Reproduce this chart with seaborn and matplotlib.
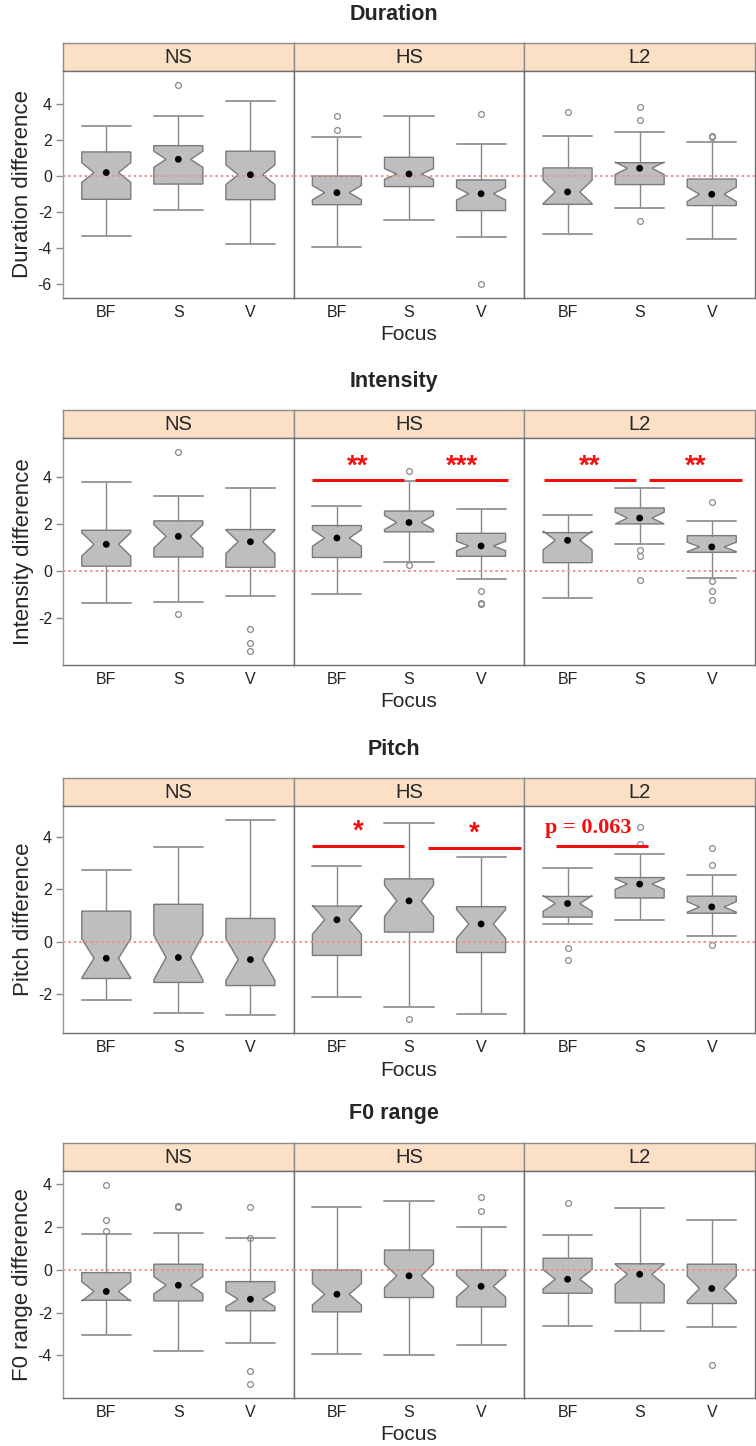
import matplotlib
matplotlib.use("Agg")
import matplotlib.pyplot as plt
import pandas as pd
import seaborn as sns

sns.set_theme(style="white")
plt.rcParams['font.family'] = ['Liberation Sans', 'DejaVu Sans']

# Categories
groups = ["NS", "HS", "L2"]
focus = ["BF", "S", "V"]

# Duration (rows = NS, HS, L2; columns = BF, S, V)
dur_med = [[0.19, 0.93, 0.07], [-0.93, 0.11, -0.99], [-0.89, 0.43, -1.02]]
dur_q1 = [[-1.30, -0.45, -1.32], [-1.60, -0.59, -1.93], [-1.58, -0.48, -1.65]]
dur_q3 = [[1.34, 1.69, 1.38], [0.00, 1.04, -0.22], [0.45, 0.74, -0.17]]
dur_lo = [[-3.33, -1.91, -3.77], [-3.94, -2.43, -3.38], [-3.22, -1.78, -3.49]]
dur_hi = [[2.79, 3.35, 4.16], [2.19, 3.35, 1.77], [2.21, 2.45, 1.88]]
dur_notch = [[0.55, 0.45, 0.55], [0.40, 0.30, 0.35], [0.65, 0.35, 0.40]]
dur_out = [[[], [5.09], []], [[3.33, 2.57], [], [3.48, -6.04]],
           [[3.55], [3.85, 3.10, -2.51], [2.16, 2.20]]]

# Intensity
int_med = [[1.14, 1.48, 1.25], [1.41, 2.07, 1.07], [1.31, 2.26, 1.03]]
int_q1 = [[0.21, 0.60, 0.16], [0.58, 1.67, 0.63], [0.36, 2.01, 0.80]]
int_q3 = [[1.74, 2.14, 1.77], [1.94, 2.56, 1.61], [1.64, 2.69, 1.51]]
int_lo = [[-1.38, -1.31, -1.05], [-0.97, 0.37, -0.34], [-1.13, 1.15, -0.28]]
int_hi = [[3.79, 3.21, 3.56], [2.79, 3.83, 2.65], [2.38, 3.56, 2.15]]
int_notch = [[0.50, 0.50, 0.50], [0.35, 0.30, 0.20], [0.40, 0.25, 0.20]]
int_out = [[[], [5.09, -1.81], [-2.46, -3.05, -3.42]],
           [[], [4.26, 0.28], [-0.83, -1.41, -1.38]],
           [[], [0.90, 0.66, -0.36], [2.95, -0.43, -0.85, -1.21]]]

# Pitch
pit_med = [[-0.64, -0.61, -0.69], [0.83, 1.55, 0.67], [1.45, 2.19, 1.32]]
pit_q1 = [[-1.41, -1.56, -1.68], [-0.53, 0.36, -0.42], [0.93, 1.66, 1.08]]
pit_q3 = [[1.16, 1.42, 0.88], [1.35, 2.39, 1.33], [1.72, 2.44, 1.73]]
pit_lo = [[-2.22, -2.71, -2.82], [-2.11, -2.49, -2.76], [0.65, 0.84, 0.20]]
pit_hi = [[2.72, 3.61, 4.64], [2.90, 4.54, 3.23], [2.80, 3.33, 2.55]]
pit_notch = [[0.75, 0.85, 0.80], [0.55, 0.60, 0.55], [0.30, 0.20, 0.20]]
pit_out = [[[], [], []], [[], [-2.96], []],
           [[-0.25, -0.72], [4.38, 3.72], [3.58, 2.92, -0.14]]]

# F0 range
f0_med = [[-1.02, -0.73, -1.38], [-1.15, -0.29, -0.78], [-0.45, -0.22, -0.88]]
f0_q1 = [[-1.43, -1.46, -1.92], [-1.97, -1.30, -1.74], [-1.10, -1.55, -1.58]]
f0_q3 = [[-0.14, 0.25, -0.56], [-0.02, 0.91, -0.02], [0.53, 0.27, 0.25]]
f0_lo = [[-3.04, -3.81, -3.44], [-3.95, -4.00, -3.50], [-2.62, -2.88, -2.67]]
f0_hi = [[1.67, 1.72, 1.46], [2.93, 3.21, 2.00], [1.60, 2.88, 2.33]]
f0_notch = [[0.45, 0.40, 0.35], [0.50, 0.55, 0.50], [0.45, 0.47, 0.58]]
f0_out = [[[3.92, 2.29, 1.80], [2.96, 2.90], [2.91, 1.49, -4.71, -5.33]],
          [[], [], [3.38, 2.73]], [[3.12], [], [-4.45]]]

# Significance marks: group index, bar start/end (in box positions), bar height, label
int_sig_group = [1, 1, 2, 2]
int_sig_x0 = [0.65, 2.09, 0.67, 2.13]
int_sig_x1 = [1.93, 3.37, 1.95, 3.42]
int_sig_y = [3.89, 3.89, 3.89, 3.89]
int_sig_label = ["**", "***", "**", "**"]

pit_sig_group = [1, 1, 2]
pit_sig_x0 = [0.65, 2.26, 0.84]
pit_sig_x1 = [1.93, 3.55, 2.12]
pit_sig_y = [3.63, 3.58, 3.65]
pit_sig_label = ["*", "*", "p = 0.063"]

panels = [
    ("Duration", "Duration difference", (-6.8, 5.85), [-6, -4, -2, 0, 2, 4],
     dur_med, dur_q1, dur_q3, dur_lo, dur_hi, dur_notch, dur_out, None, 43),
    ("Intensity", "Intensity difference", (-4.0, 5.67), [-2, 0, 2, 4],
     int_med, int_q1, int_q3, int_lo, int_hi, int_notch, int_out,
     (int_sig_group, int_sig_x0, int_sig_x1, int_sig_y, int_sig_label), 410),
    ("Pitch", "Pitch difference", (-3.49, 5.17), [-2, 0, 2, 4],
     pit_med, pit_q1, pit_q3, pit_lo, pit_hi, pit_notch, pit_out,
     (pit_sig_group, pit_sig_x0, pit_sig_x1, pit_sig_y, pit_sig_label), 778),
    ("F0 range", "F0 range difference", (-5.98, 4.59), [-4, -2, 0, 2, 4],
     f0_med, f0_q1, f0_q3, f0_lo, f0_hi, f0_notch, f0_out, None, 1143),
]

W, H = 756, 1446
fig = plt.figure(figsize=(W / 100, H / 100), dpi=100)

left_px, right_px = 63, 755
facet_w = (right_px - left_px) / 3
strip_h, plot_h = 28, 227
strip_col = "#FCE0C6"
frame_col = "#6E6E6E"
red = "#F01010"

for title, ylab, ylim, yticks, med, q1, q3, lo, hi, notch, out, sig, top in panels:
    fig.text(394 / W, 1 - (top - 29) / H, title, ha="center", va="center",
             fontsize=15.5, fontweight="bold")
    for g, grp in enumerate(groups):
        x0 = (left_px + g * facet_w) / W
        # strip
        sax = fig.add_axes([x0, 1 - (top + strip_h) / H, facet_w / W, strip_h / H])
        sax.set_facecolor(strip_col)
        sax.set_xticks([])
        sax.set_yticks([])
        for s in sax.spines.values():
            s.set_color("#8C8C8C")
            s.set_linewidth(1)
        sax.text(0.5, 0.47, grp, ha="center", va="center", fontsize=14.5,
                 transform=sax.transAxes)

        ax = fig.add_axes([x0, 1 - (top + strip_h + plot_h) / H, facet_w / W, plot_h / H])
        stats = []
        for k, f in enumerate(focus):
            stats.append(dict(label=f, med=med[g][k], q1=q1[g][k], q3=q3[g][k],
                              whislo=lo[g][k], whishi=hi[g][k],
                              cilo=med[g][k] - notch[g][k], cihi=med[g][k] + notch[g][k],
                              fliers=out[g][k]))
        ax.bxp(stats, positions=[1, 2, 3], widths=0.68, shownotches=True,
               patch_artist=True, capwidths=0.68,
               boxprops=dict(facecolor="#BEBEBE", edgecolor="#7A7A7A", linewidth=1),
               whiskerprops=dict(color="#858585", linewidth=1),
               capprops=dict(color="#9A9A9A", linewidth=1.4),
               medianprops=dict(linewidth=0),
               flierprops=dict(marker="o", markerfacecolor="none",
                               markeredgecolor="#8A8A8A", markersize=4.2,
                               markeredgewidth=0.9))
        dots = pd.DataFrame({"pos": [1, 2, 3], "val": med[g]})
        sns.scatterplot(data=dots, x="pos", y="val", color="black", s=24,
                        edgecolor="none", ax=ax, zorder=5, legend=False)
        ax.axhline(0, color="#F28C8C", linestyle=(0, (1.2, 1.6)), linewidth=1.4, zorder=4)

        if sig is not None:
            sg, sx0, sx1, sy, slab = sig
            for i in range(len(sg)):
                if sg[i] != g:
                    continue
                ax.plot([sx0[i], sx1[i]], [sy[i], sy[i]], color=red, linewidth=2.2,
                        solid_capstyle="butt", zorder=6)
                if slab[i].startswith("p"):
                    ax.text(1.28, sy[i] + 0.68, slab[i], ha="center", va="center",
                            color=red, fontsize=16, fontweight="bold",
                            family=["Liberation Serif", "DejaVu Serif"], zorder=6)
                else:
                    ax.text((sx0[i] + sx1[i]) / 2, sy[i] + 0.55, slab[i], ha="center",
                            va="center", color=red, fontsize=20, fontweight="bold", zorder=6)

        ax.set_xlim(0.4, 3.6)
        ax.set_ylim(*ylim)
        ax.set_xticks([1, 2, 3])
        ax.set_xticklabels(focus)
        ax.set_xlabel("")
        ax.set_ylabel("")
        ax.tick_params(axis="x", length=0, pad=5, labelsize=11.5, labelcolor="#222222")
        ax.set_facecolor("white")
        for s in ax.spines.values():
            s.set_color(frame_col)
            s.set_linewidth(1)
        if g == 0:
            ax.set_yticks(yticks)
            ax.set_yticklabels([str(t) for t in yticks])
            ax.tick_params(axis="y", left=True, length=5, width=1, color="#8C8C8C",
                           pad=3, labelsize=11.5, labelcolor="#222222")
            ax.spines["left"].set_color("#9A9A9A")
            ax.set_ylabel(ylab, fontsize=16, labelpad=3)
        else:
            ax.set_yticks(yticks)
            ax.tick_params(axis="y", left=False, labelleft=False)
        if g == 1:
            ax.set_xlabel("Focus", fontsize=15, labelpad=4)

fig.savefig("out.png", dpi=100)
